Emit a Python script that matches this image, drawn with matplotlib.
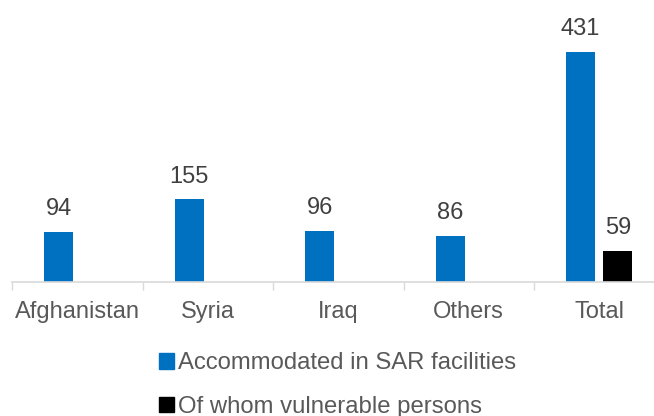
import matplotlib.pyplot as plt
from matplotlib.patches import Patch

categories = ['Afghanistan', 'Syria', 'Iraq', 'Others', 'Total']
accommodated = [94, 155, 96, 86, 431]
vulnerable = [None, None, None, None, 59]

BLUE = '#0070C0'
BLACK = '#000000'
AXIS_GREY = '#D9D9D9'
TEXT_GREY = '#595959'
LABEL_GREY = '#404040'

plt.rcParams['font.family'] = ['Liberation Sans', 'DejaVu Sans']

fig = plt.figure(figsize=(6.54, 4.16), dpi=100)
ax = fig.add_axes([12 / 654, 134 / 416, 652.5 / 654, 272 / 416])

width = 0.222
offset = 0.143
xs = list(range(len(categories)))

bars_a = ax.bar([x - offset for x in xs], accommodated, width, color=BLUE)
vx = [x + offset for x, v in zip(xs, vulnerable) if v is not None]
vv = [v for v in vulnerable if v is not None]
bars_v = ax.bar(vx, vv, width, color=BLACK)

for bars in (bars_a, bars_v):
    for b in bars:
        ax.annotate(f'{int(b.get_height())}',
                    (b.get_x() + b.get_width() / 2, b.get_height()),
                    xytext=(0, 8.5), textcoords='offset points',
                    ha='center', va='bottom', fontsize=17, color=LABEL_GREY)

ax.set_xlim(-0.5, len(categories) - 0.5)
ax.set_ylim(0, 510)
ax.set_yticks([])
ax.set_xticks(xs, categories)
ax.set_xticks([x - 0.5 for x in range(len(categories) + 1)], minor=True)
ax.tick_params(axis='x', which='major', length=0, pad=14,
               labelsize=17, labelcolor=TEXT_GREY)
ax.tick_params(axis='x', which='minor', length=6, width=1, color=AXIS_GREY)
for side in ('top', 'right', 'left'):
    ax.spines[side].set_visible(False)
ax.spines['bottom'].set_color(AXIS_GREY)
ax.spines['bottom'].set_linewidth(1.2)

handles = [Patch(color=BLUE), Patch(color=BLACK)]
labels = ['Accommodated in SAR facilities', 'Of whom vulnerable persons']
leg = fig.legend(handles, labels, loc='center',
                 bbox_to_anchor=(338 / 654, (416 - 385) / 416),
                 ncol=1, frameon=False, fontsize=17.2,
                 handlelength=0.6, handleheight=0.6, handletextpad=0.2,
                 labelspacing=0.88, borderpad=0)
for t in leg.get_texts():
    t.set_color(TEXT_GREY)

fig.savefig('out.png', dpi=100)
